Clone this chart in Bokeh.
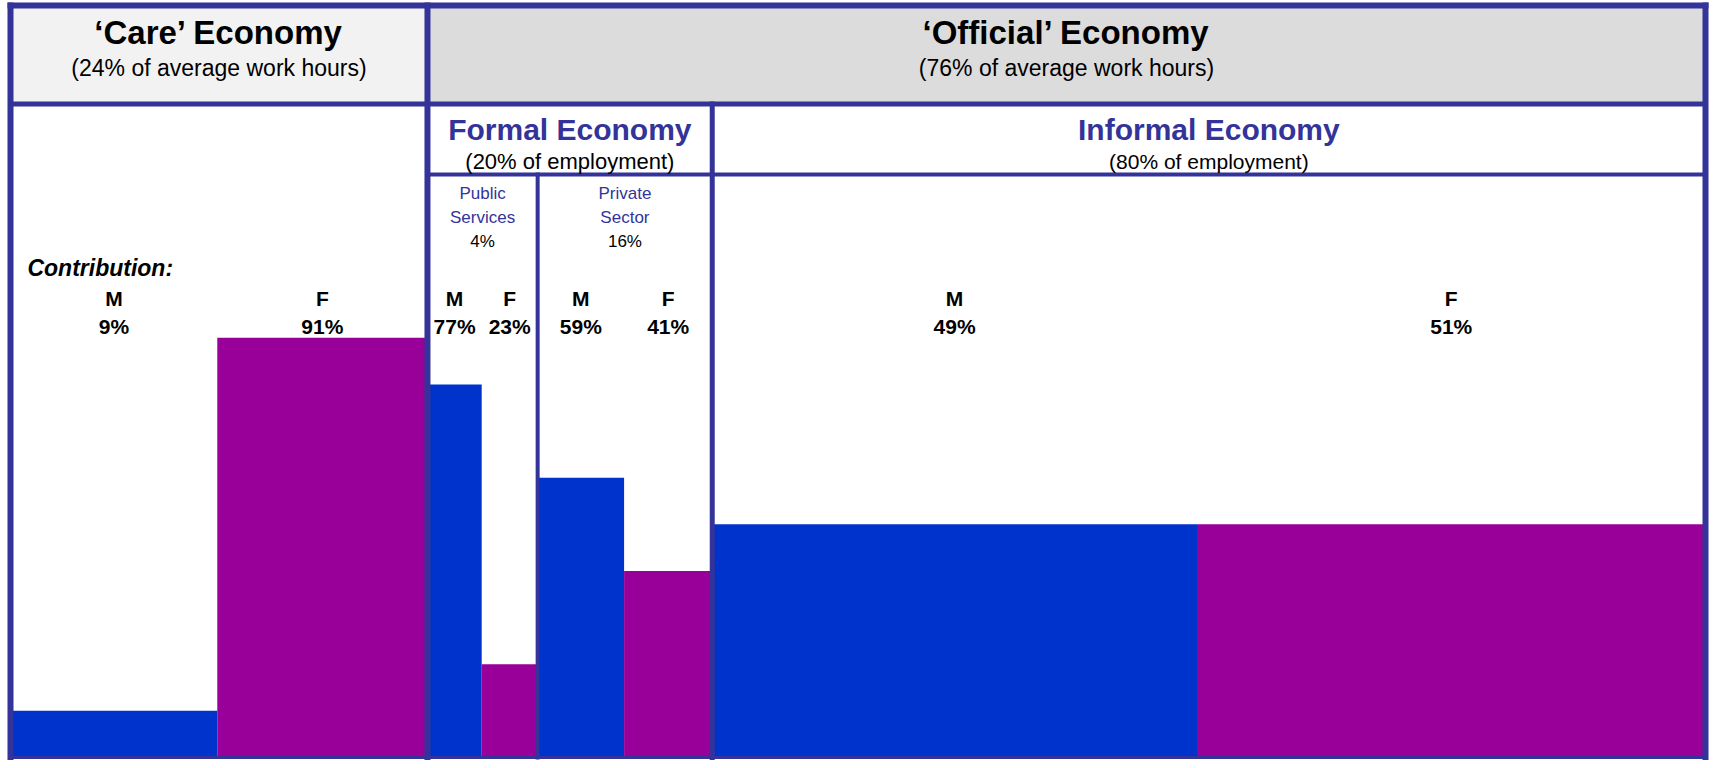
import numpy as np
from bokeh.plotting import figure
from bokeh.models import Range1d, ColumnDataSource
from bokeh.core.properties import value
from bokeh.embed import file_html
from bokeh.resources import INLINE

# ---------------- data ----------------
sexes = ["M", "F", "M", "F", "M", "F", "M", "F"]
contribution = ["9%", "91%", "77%", "23%", "59%", "41%", "49%", "51%"]
# width of each column, in percent of the chart width
col_width = [12.2, 12.4, 3.2, 3.3, 5.1, 5.2, 28.6, 30.0]
# bar heights, in percent of the body panel height
bar_height = [8, 72, 64, 16, 48, 32, 40, 40]

care_title = "\u2018Care\u2019 Economy"
care_sub = "(24% of average work hours)"
official_title = "\u2018Official\u2019 Economy"
official_sub = "(76% of average work hours)"
formal_title = "Formal Economy"
formal_sub = "(20% of employment)"
informal_title = "Informal Economy"
informal_sub = "(80% of employment)"
public_label = ["Public", "Services", "4%"]
private_label = ["Private", "Sector", "16%"]

# ---------------- styles ----------------
BLUE = "#0033cc"
PURPLE = "#990099"
NAVY = "#333399"
FONT = value("Liberation Sans")

edges = np.concatenate([[0.0], np.cumsum(col_width)])
left = edges[:-1]
right = edges[1:]
centers = (left + right) / 2
bar_colors = [BLUE if s == "M" else PURPLE for s in sexes]

# group boundaries (column indices)
care_l, care_r = edges[0], edges[2]
off_l, off_r = edges[2], edges[8]
formal_l, formal_r = edges[2], edges[6]
inf_l, inf_r = edges[6], edges[8]
pub_l, pub_r = edges[2], edges[4]
priv_l, priv_r = edges[4], edges[6]

# vertical layout levels
TOP = 129.0
HEAD = 112.1
SUB = 100.0

p = figure(width=1709, height=760, output_backend="svg", toolbar_location=None,
           x_range=Range1d(-0.590, 100.236), y_range=Range1d(-0.525, 129.858),
           min_border=0, tools="")
p.axis.visible = False
p.grid.visible = False
p.outline_line_color = None
p.background_fill_color = "white"
p.border_fill_color = "white"

# header fills
p.quad(left=[care_l, off_l], right=[care_r, off_r], bottom=[HEAD, HEAD], top=[TOP, TOP],
       fill_color=["#f2f2f2", "#dcdcdc"], line_color=None)

# bars
src = ColumnDataSource(dict(left=left, right=right, top=bar_height,
                            bottom=[0] * len(bar_height), color=bar_colors))
p.quad(left="left", right="right", top="top", bottom="bottom", fill_color="color",
       line_color=None, source=src)

# grid lines
def seg(x0, y0, x1, y1, w):
    p.segment(x0=[x0], y0=[y0], x1=[x1], y1=[y1], line_color=NAVY, line_width=w,
              line_cap="square")

seg(care_l, TOP, off_r, TOP, 6)        # top border
seg(care_l, 0, off_r, 0, 3)            # bottom border
seg(care_l, 0, care_l, TOP, 6)         # left border
seg(off_r, 0, off_r, TOP, 6)           # right border
seg(care_l, HEAD, off_r, HEAD, 5)      # header bottom
seg(care_r, 0, care_r, TOP, 6)         # care / official
seg(off_l, SUB, off_r, SUB, 4)         # formal / informal header bottom
seg(formal_r, 0, formal_r, HEAD, 5)    # formal / informal
seg(pub_r, 0, pub_r, SUB, 4)           # public / private

# header texts
p.text(x=[(care_l + care_r) / 2, (off_l + off_r) / 2], y=[124.37, 124.37],
       text=[care_title, official_title], text_align="center", text_baseline="middle",
       text_font=FONT, text_font_size="33px", text_font_style="bold", text_color="black")
p.text(x=[(care_l + care_r) / 2, (off_l + off_r) / 2], y=[118.36, 118.36],
       text=[care_sub, official_sub], text_align="center", text_baseline="middle",
       text_font=FONT, text_font_size="23px", text_color="black")

p.text(x=[(formal_l + formal_r) / 2, (inf_l + inf_r) / 2], y=[107.81, 107.81],
       text=[formal_title, informal_title], text_align="center", text_baseline="middle",
       text_font=FONT, text_font_size="30px", text_font_style="bold", text_color=NAVY)
p.text(x=[(formal_l + formal_r) / 2], y=[102.24],
       text=[formal_sub], text_align="center", text_baseline="middle",
       text_font=FONT, text_font_size="22px", text_color="black")
p.text(x=[(inf_l + inf_r) / 2], y=[102.24],
       text=[informal_sub], text_align="center", text_baseline="middle",
       text_font=FONT, text_font_size="21px", text_color="black")

# sector labels
for cx, lab in [((pub_l + pub_r) / 2, public_label), ((priv_l + priv_r) / 2, private_label)]:
    p.text(x=[cx, cx], y=[96.75, 92.63], text=lab[:2], text_align="center",
           text_baseline="middle", text_font=FONT, text_font_size="17px", text_color=NAVY)
    p.text(x=[cx], y=[88.43], text=lab[2:], text_align="center",
           text_baseline="middle", text_font=FONT, text_font_size="17px", text_color="black")

# contribution labels
p.text(x=[care_l + 1.0], y=[84.05], text=["Contribution:"], text_align="left",
       text_baseline="middle", text_font=FONT, text_font_size="23px",
       text_font_style="bold italic", text_color="black")
p.text(x=centers, y=[78.73] * len(sexes), text=sexes, text_align="center",
       text_baseline="middle", text_font=FONT, text_font_size="21px",
       text_font_style="bold", text_color="black")
p.text(x=centers, y=[73.85] * len(sexes), text=contribution, text_align="center",
       text_baseline="middle", text_font=FONT, text_font_size="21px",
       text_font_style="bold", text_color="black")

open("out.html", "w").write(file_html(p, INLINE))
